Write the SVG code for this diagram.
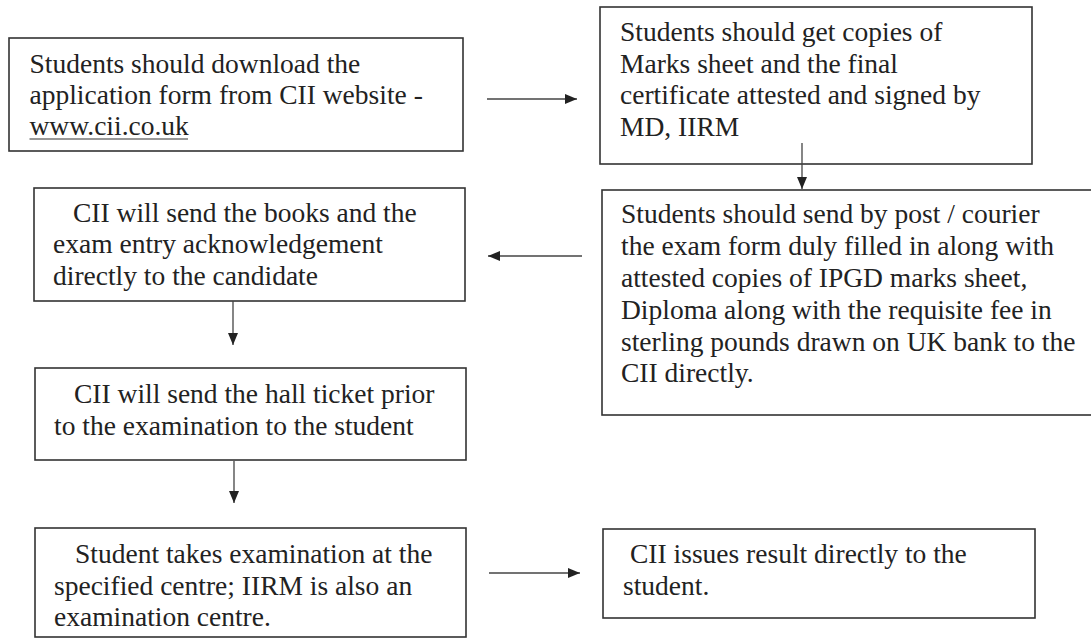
<svg xmlns="http://www.w3.org/2000/svg" width="1091" height="639" viewBox="0 0 1091 639">
<style>
.box{fill:#fff;stroke:#333;stroke-width:1.6}
.t{font-family:"Liberation Serif","Times New Roman",serif;font-size:27.5px;fill:#222}
.c{fill:none;stroke:#444;stroke-width:1.3}
</style>
<defs>
<marker id="ah" viewBox="0 0 12 10" refX="12" refY="5" markerWidth="12" markerHeight="10" markerUnits="userSpaceOnUse" orient="auto">
<path d="M0,0 L12,5 L0,10 Z" fill="#222"/>
</marker>
</defs>
<rect width="1091" height="639" fill="#fff"/>
<g id="n1">
<rect class="box" x="9" y="38" width="454" height="113"/>
<text class="t" x="29.5" y="72.7">Students should download the</text>
<text class="t" x="29.5" y="104">application form from CII website -</text>
<text class="t" x="29.5" y="135.3">www.cii.co.uk</text>
<line x1="29.5" y1="139" x2="188" y2="139" stroke="#333" stroke-width="1.2"/>
</g>
<g id="n2">
<rect class="box" x="600" y="7" width="432" height="157"/>
<text class="t" x="620" y="40.7">Students should get copies of</text>
<text class="t" x="620" y="72.7">Marks sheet and the final</text>
<text class="t" x="620" y="104">certificate attested and signed by</text>
<text class="t" x="620" y="135.5">MD, IIRM</text>
</g>
<g id="n3">
<rect class="box" x="602" y="190" width="492" height="225"/>
<text class="t" x="621" y="222.7">Students should send by post / courier</text>
<text class="t" x="621" y="255">the exam form duly filled in along with</text>
<text class="t" x="621" y="286.7">attested copies of IPGD marks sheet,</text>
<text class="t" x="621" y="318.5">Diploma along with the requisite fee in</text>
<text class="t" x="621" y="350.7">sterling pounds drawn on UK bank to the</text>
<text class="t" x="621" y="382.3">CII directly.</text>
</g>
<g id="n4">
<rect class="box" x="34" y="188" width="431" height="113"/>
<text class="t" x="73" y="221.7">CII will send the books and the</text>
<text class="t" x="53" y="253.3">exam entry acknowledgement</text>
<text class="t" x="53" y="285">directly to the candidate</text>
</g>
<g id="n5">
<rect class="box" x="35" y="368" width="431" height="92"/>
<text class="t" x="74" y="403.3">CII will send the hall ticket prior</text>
<text class="t" x="54" y="435">to the examination to the student</text>
</g>
<g id="n6">
<rect class="box" x="35" y="528" width="431" height="109"/>
<text class="t" x="75" y="563.3">Student takes examination at the</text>
<text class="t" x="54" y="595">specified centre; IIRM is also an</text>
<text class="t" x="54" y="625.5">examination centre.</text>
</g>
<g id="n7">
<rect class="box" x="603" y="529" width="432" height="89"/>
<text class="t" x="630" y="562.7">CII issues result directly to the</text>
<text class="t" x="623" y="595">student.</text>
</g>
<g id="connectors">
<line class="c" x1="487" y1="99" x2="577" y2="99" marker-end="url(#ah)"/>
<line class="c" x1="802" y1="143" x2="802" y2="189" marker-end="url(#ah)"/>
<line class="c" x1="582" y1="256" x2="488" y2="256" marker-end="url(#ah)"/>
<line class="c" x1="233" y1="301" x2="233" y2="345" marker-end="url(#ah)"/>
<line class="c" x1="234" y1="461" x2="234" y2="503" marker-end="url(#ah)"/>
<line class="c" x1="489" y1="573" x2="580" y2="573" marker-end="url(#ah)"/>
</g>
</svg>
